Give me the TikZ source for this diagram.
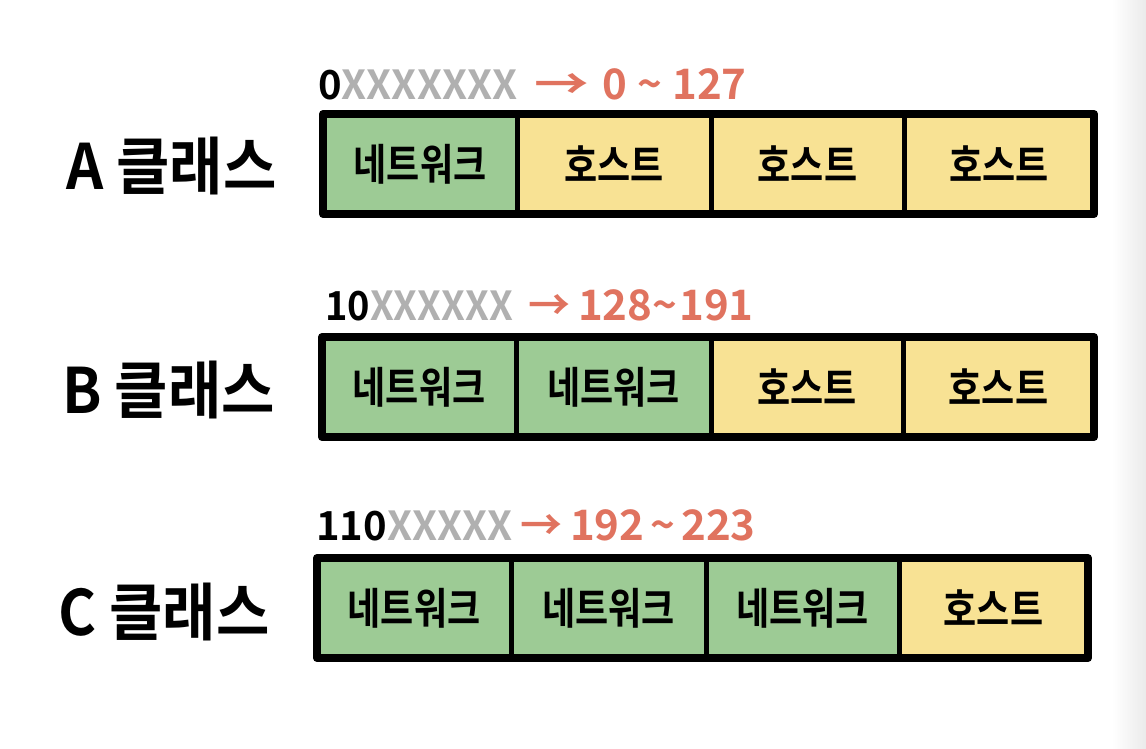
\documentclass[tikz,border=0pt]{standalone}
\usepackage{fontspec}
\usepackage{graphicx}
\newfontfamily\kr{Noto Sans CJK KR}[BoldFont={* Bold}]
\definecolor{netgreen}{HTML}{9DCB95}
\definecolor{hostyellow}{HTML}{F8E294}
\definecolor{rangered}{HTML}{E0735F}
\definecolor{bitgray}{HTML}{B0B0B0}
\tikzset{
  cell/.style={draw=black, line width=5pt, minimum height=100pt, inner sep=0pt, outer sep=0pt, anchor=north west,
    font=\kr\bfseries\fontsize{36}{36}\selectfont},
  net/.style={cell, fill=netgreen},
  host/.style={cell, fill=hostyellow},
  frame/.style={draw=black, line width=8pt, line join=round},
  classlabel/.style={anchor=west, inner sep=0pt, font=\kr\bfseries\fontsize{58}{58}\selectfont},
  bitstext/.style={anchor=base west, inner sep=0pt, font=\kr\bfseries\fontsize{40}{40}\selectfont},
  rangetext/.style={anchor=base west, inner sep=0pt, text=rangered, font=\kr\bfseries\fontsize{42}{42}\selectfont}
}
\newcommand{\tall}[1]{\scalebox{1}[1.2]{#1}}
\newcommand{\lbl}[1]{\scalebox{1.0}[1.08]{#1}}
\begin{document}
\begin{tikzpicture}[x=1pt,y=-1pt]
\useasboundingbox (0,0) rectangle (1146,748);
\fill[white] (0,0) rectangle (1146,748);
\shade[left color=white, right color=black!8] (1112,0) rectangle (1146,748);

% Row A
\node[classlabel] (la) at (66,166) {\lbl{A 클래스}};
\node[bitstext] (ba) at (318,99) {{\color{black}0}{\color{bitgray}XXXXXXX}};
\node[rangetext] (ra) at (534,99) {\scalebox{1.3}[1]{→}\hspace{14pt}0\hspace{10pt}\textasciitilde\hspace{10pt}127};
\node[net,  minimum width=194pt] (a1) at (323,114) {\tall{네트워크}};
\node[host, minimum width=194pt] (a2) at (a1.north east) {\tall{호스트}};
\node[host, minimum width=193pt] (a3) at (a2.north east) {\tall{호스트}};
\node[host, minimum width=190pt] (a4) at (a3.north east) {\tall{호스트}};
\draw[frame] (a1.north west) rectangle (a4.south east);

% Row B
\node[classlabel] (lb) at (62,390) {\lbl{B 클래스}};
\node[bitstext] (bb) at (325,320) {\scalebox{0.95}[1]{{\color{black}10}{\color{bitgray}XXXXXX}}};
\node[rangetext] (rb) at (528,320) {→\hspace{8pt}128\textasciitilde\hspace{2pt}191};
\node[net,  minimum width=194pt] (b1) at (322,337) {\tall{네트워크}};
\node[net,  minimum width=195pt] (b2) at (b1.north east) {\tall{네트워크}};
\node[host, minimum width=192pt] (b3) at (b2.north east) {\tall{호스트}};
\node[host, minimum width=191pt] (b4) at (b3.north east) {\tall{호스트}};
\draw[frame] (b1.north west) rectangle (b4.south east);

% Row C
\node[classlabel] (lc) at (58,612) {\lbl{C 클래스}};
\node[bitstext] (bc) at (316,540) {{\color{black}110}{\color{bitgray}XXXXX}};
\node[rangetext] (rc) at (520,540) {→\hspace{8pt}192\hspace{6pt}\textasciitilde\hspace{6pt}223};
\node[net,  minimum width=194pt] (c1) at (317,558) {\tall{네트워크}};
\node[net,  minimum width=195pt] (c2) at (c1.north east) {\tall{네트워크}};
\node[net,  minimum width=193pt] (c3) at (c2.north east) {\tall{네트워크}};
\node[host, minimum width=189pt] (c4) at (c3.north east) {\tall{호스트}};
\draw[frame] (c1.north west) rectangle (c4.south east);
\end{tikzpicture}
\end{document}
